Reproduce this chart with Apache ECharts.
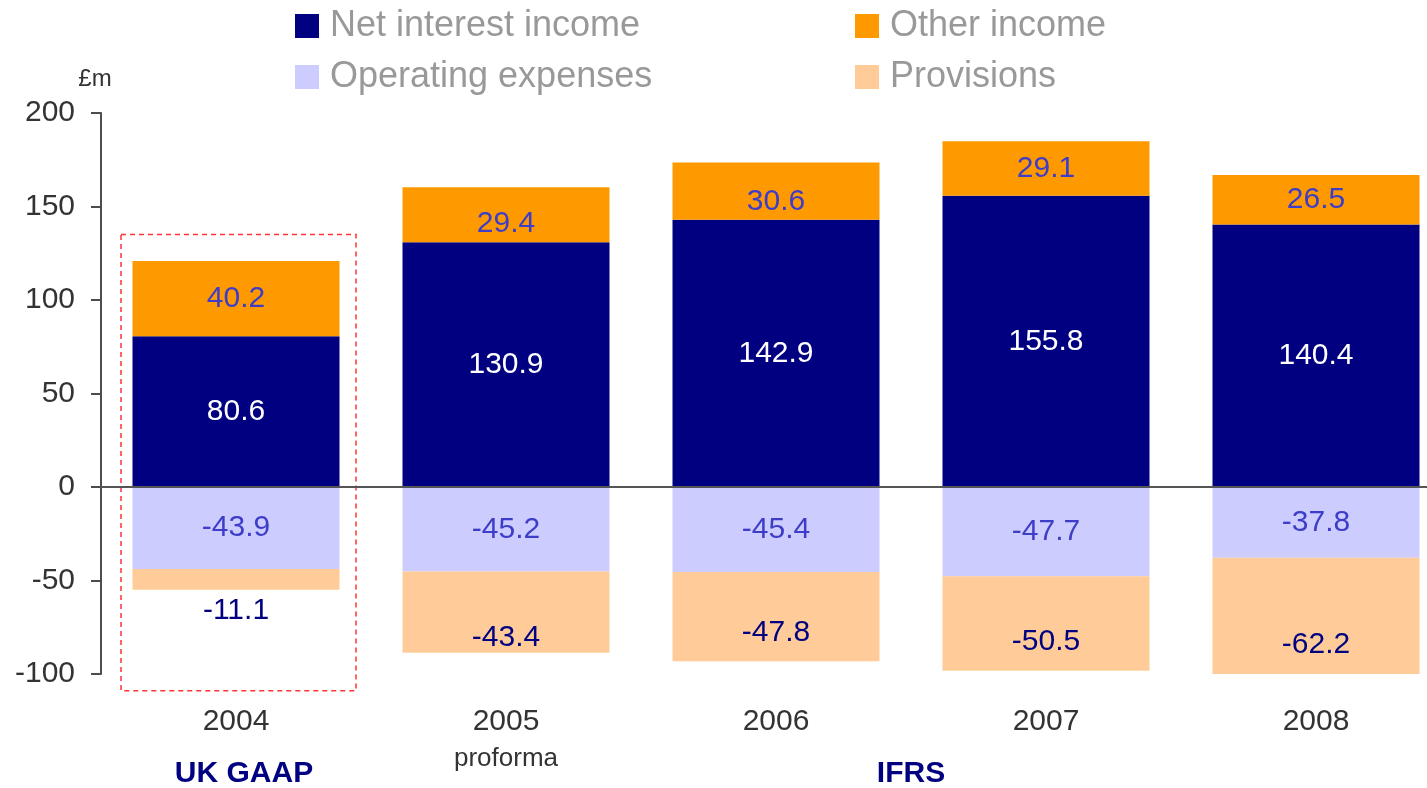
<!DOCTYPE html>
<html>
<head>
<meta charset="utf-8">
<style>
  html, body { margin: 0; padding: 0; background: #fff; }
  #chart-container { width: 1427px; height: 788px; }
</style>
<script src="https://cdn.jsdelivr.net/npm/echarts@6/dist/echarts.min.js"></script>
</head>
<body>
<div id="chart-container"></div>
<script>
const categories = ['2004', '2005', '2006', '2007', '2008'];
const netInterest = [80.6, 130.9, 142.9, 155.8, 140.4];
const otherIncome = [40.2, 29.4, 30.6, 29.1, 26.5];
const opExpenses = [-43.9, -45.2, -45.4, -47.7, -37.8];
const provisions = [-11.1, -43.4, -47.8, -50.5, -62.2];
const yTicks = { min: -100, max: 200, interval: 50 };

const FONT = '"Liberation Sans", Arial, sans-serif';

const initChart = () => {
  const dom = document.getElementById('chart-container');
  return echarts.init(dom, null, { renderer: 'canvas' });
};

const barLabel = (color) => ({
  show: true,
  position: 'inside',
  color: color,
  fontSize: 30,
  fontFamily: FONT,
  formatter: (p) => p.value.toFixed(1),
});

// 2005 and 2006 other income labels sit low in their segment
const otherItems = otherIncome.map((v, i) =>
  i === 1 || i === 2 ? { value: v, label: { position: 'insideBottom', distance: 3 } } : v
);

// provisions labels sit low in the bar, 2004 one hangs below it
const provisionItems = provisions.map((v, i) => {
  let label = { position: 'insideBottom', distance: 14 };
  if (i === 0) label = { position: 'bottom', distance: 6 };
  if (i === 1) label = { position: 'insideBottom', distance: 0 };
  return { value: v, label: label };
});

const legendBase = {
  orient: 'vertical',
  top: 8,
  padding: 0,
  icon: 'rect',
  itemWidth: 24,
  itemHeight: 24,
  itemGap: 15,
  selectedMode: false,
  textStyle: {
    color: '#999999',
    fontSize: 36,
    fontFamily: FONT,
    padding: [0, 0, 0, 6],
  },
};

const renderChart = (chart) => {
  chart.setOption({
    textStyle: { fontFamily: FONT },
    legend: [
      Object.assign({ left: 295, data: ['Net interest income', 'Operating expenses'] }, legendBase),
      Object.assign({ left: 855, data: ['Other income', 'Provisions'] }, legendBase),
    ],
    grid: {
      left: 101,
      top: 113,
      width: 1350,
      height: 561,
      outerBoundsMode: 'none',
    },
    xAxis: {
      type: 'category',
      data: categories,
      axisLine: { show: false, onZero: false },
      axisTick: { show: false },
      axisLabel: {
        margin: 30,
        color: '#333333',
        fontSize: 30,
        lineHeight: 36,
        fontFamily: FONT,
        formatter: (v) => (v === '2005' ? v + '\n{p|proforma}' : v),
        rich: {
          p: { fontSize: 26, lineHeight: 38, color: '#333333', fontFamily: FONT },
        },
      },
    },
    yAxis: {
      type: 'value',
      min: yTicks.min,
      max: yTicks.max,
      interval: yTicks.interval,
      name: '£m',
      nameLocation: 'end',
      nameGap: 22,
      nameTextStyle: {
        color: '#333333',
        fontSize: 24,
        fontFamily: FONT,
        padding: [0, 12, 0, 0],
      },
      axisLine: { show: true, lineStyle: { color: '#4d4d4d', width: 2 } },
      axisTick: { show: true, length: 10, lineStyle: { color: '#4d4d4d', width: 2 } },
      splitLine: { show: false },
      axisLabel: {
        margin: 26,
        color: '#333333',
        fontSize: 30,
        fontFamily: FONT,
      },
    },
    series: [
      {
        name: 'Net interest income',
        type: 'bar',
        stack: 'pl',
        barWidth: 207,
        itemStyle: { color: '#000080' },
        label: barLabel('#ffffff'),
        data: netInterest,
        markLine: {
          silent: true,
          symbol: 'none',
          label: { show: false },
          lineStyle: { color: '#555555', width: 2, type: 'solid' },
          data: [{ yAxis: 0 }],
          animation: false,
        },
      },
      {
        name: 'Other income',
        type: 'bar',
        stack: 'pl',
        barWidth: 207,
        itemStyle: { color: '#ff9900' },
        label: barLabel('#3d3dc8'),
        data: otherItems,
      },
      {
        name: 'Operating expenses',
        type: 'bar',
        stack: 'pl',
        barWidth: 207,
        itemStyle: { color: '#ccccff' },
        label: barLabel('#3d3dc8'),
        data: opExpenses,
      },
      {
        name: 'Provisions',
        type: 'bar',
        stack: 'pl',
        barWidth: 207,
        itemStyle: { color: '#ffcc99' },
        label: barLabel('#000080'),
        data: provisionItems,
      },
    ],
    animation: false,
  });

  // annotations placed from the axes
  const px = (cat, val) => chart.convertToPixel({ gridIndex: 0 }, [cat, val]);
  const boxTop = px(categories[0], 135);
  const boxBottom = px(categories[0], -109);
  const first = px(categories[0], 0);
  const second = px(categories[1], 0);
  const last = px(categories[4], 0);
  const groupY = px(categories[0], -153.5)[1];

  chart.setOption({
    graphic: [
      {
        type: 'rect',
        silent: true,
        shape: {
          x: boxTop[0] - 115,
          y: boxTop[1],
          width: 235,
          height: boxBottom[1] - boxTop[1],
        },
        style: { fill: 'none', stroke: '#ff3333', lineWidth: 1.5, lineDash: [5, 4] },
      },
      {
        type: 'text',
        silent: true,
        x: first[0] + 8,
        y: groupY,
        style: {
          text: 'UK GAAP',
          fill: '#000080',
          font: 'bold 30px ' + FONT,
          align: 'center',
          verticalAlign: 'middle',
        },
      },
      {
        type: 'text',
        silent: true,
        x: (second[0] + last[0]) / 2,
        y: groupY,
        style: {
          text: 'IFRS',
          fill: '#000080',
          font: 'bold 30px ' + FONT,
          align: 'center',
          verticalAlign: 'middle',
        },
      },
    ],
  });
};

const chart = initChart();
renderChart(chart);
</script>
</body>
</html>
